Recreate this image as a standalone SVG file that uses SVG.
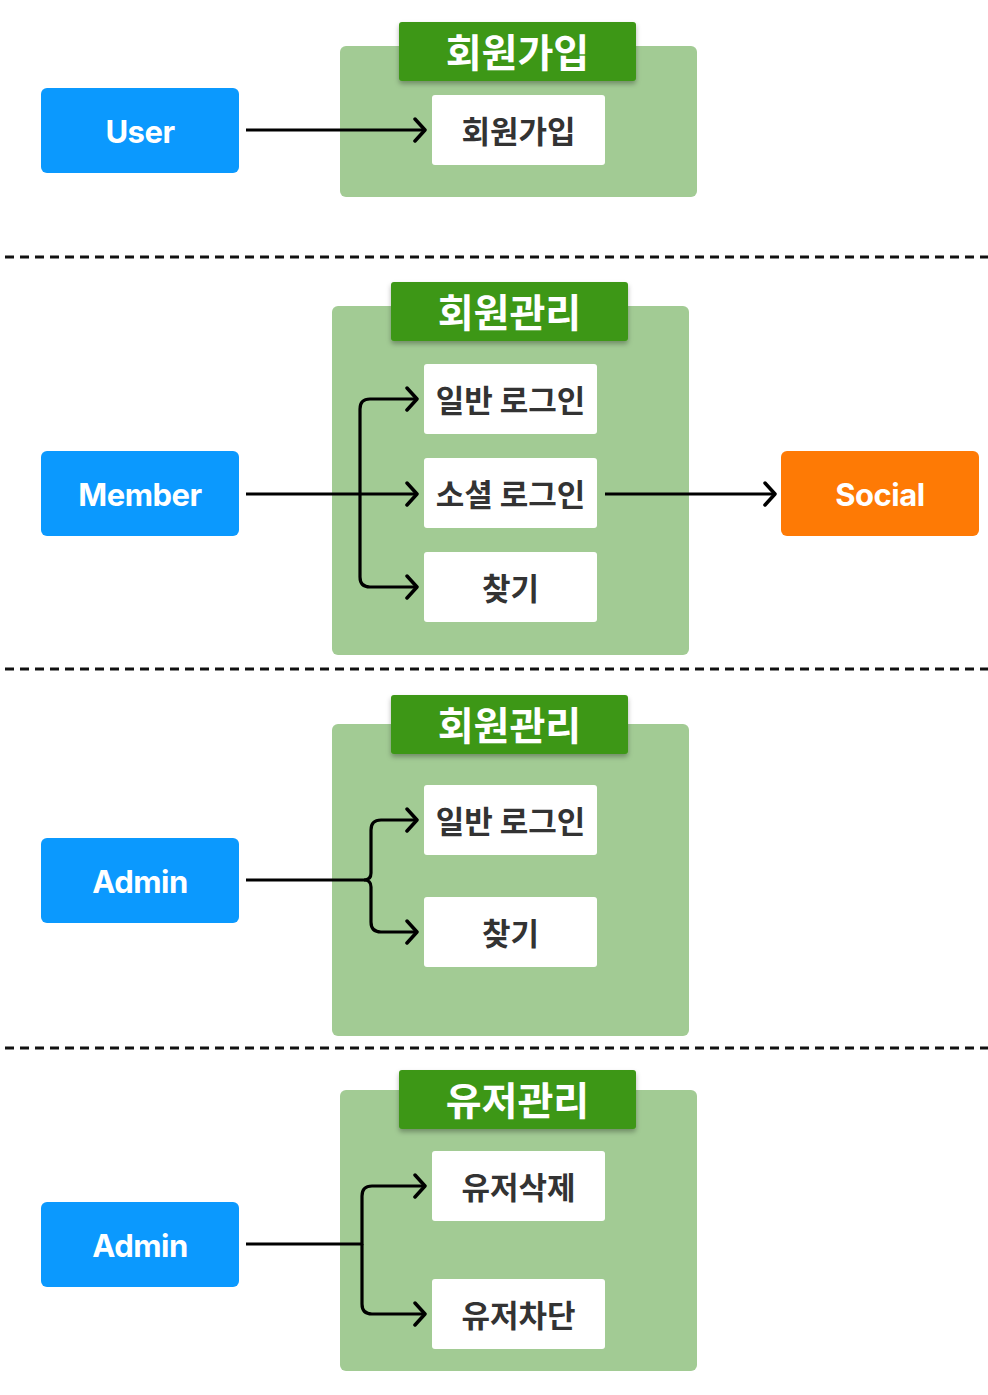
<svg xmlns="http://www.w3.org/2000/svg" width="988" height="1395" viewBox="0 0 988 1395">
<style>
.actor{fill:#0b99fe}
.social{fill:#fe7a05}
.grp{fill:#a2cb94}
.title{fill:#3c9714}
.item{fill:#ffffff}
.atext{font-family:Inter,"Noto Sans","Noto Sans CJK KR",sans-serif;font-weight:700;font-size:31px;fill:#ffffff;text-anchor:middle;dominant-baseline:central;letter-spacing:-0.5px}
.ttext{font-family:"Noto Sans CJK KR",sans-serif;font-weight:700;font-size:39px;fill:#ffffff;text-anchor:middle;dominant-baseline:central}
.itext{font-family:"Noto Sans CJK KR",sans-serif;font-weight:700;font-size:31px;fill:#333333;text-anchor:middle;dominant-baseline:central}
.conn{fill:none;stroke:#000;stroke-width:3.2;stroke-linejoin:round}
.sep{stroke:#111;stroke-width:3;stroke-dasharray:9 6}
</style>
<defs>
<marker id="arr" viewBox="0 0 14 26" refX="12" refY="13" markerWidth="14" markerHeight="26" markerUnits="userSpaceOnUse" orient="auto">
<path d="M2,2 L12,13 L2,24" fill="none" stroke="#000" stroke-width="3.5" stroke-linecap="round" stroke-linejoin="round"/>
</marker>
<filter id="sh" x="-10%" y="-20%" width="120%" height="150%">
<feDropShadow dx="0" dy="3" stdDeviation="2.5" flood-color="#000" flood-opacity="0.3"/>
</filter>
</defs>

<g id="separators">
<line class="sep" x1="5" y1="257" x2="988" y2="257"/>
<line class="sep" x1="5" y1="669" x2="988" y2="669"/>
<line class="sep" x1="5" y1="1048" x2="988" y2="1048"/>
</g>

<!-- Section 1 -->
<g id="group-signup">
<rect class="grp" x="340" y="46" width="357" height="151" rx="6"/>
<rect class="title" x="399" y="22" width="237" height="59" rx="3" filter="url(#sh)"/>
<text class="ttext" x="517.5" y="50">회원가입</text>
</g>
<g id="user"><rect class="actor" x="41" y="88" width="198" height="85" rx="6"/><text class="atext" x="140" y="131">User</text></g>
<g id="signup"><rect class="item" x="432" y="95" width="173" height="70" rx="3"/><text class="itext" x="518.5" y="129">회원가입</text></g>

<!-- Section 2 -->
<g id="group-member-mgmt">
<rect class="grp" x="332" y="306" width="357" height="349" rx="6"/>
<rect class="title" x="391" y="282" width="237" height="59" rx="3" filter="url(#sh)"/>
<text class="ttext" x="509.5" y="310">회원관리</text>
</g>
<g id="member"><rect class="actor" x="41" y="451" width="198" height="85" rx="6"/><text class="atext" x="140" y="494">Member</text></g>
<g id="login1"><rect class="item" x="424" y="364" width="173" height="70" rx="3"/><text class="itext" x="510.5" y="398">일반 로그인</text></g>
<g id="social-login"><rect class="item" x="424" y="458" width="173" height="70" rx="3"/><text class="itext" x="510.5" y="492">소셜 로그인</text></g>
<g id="find1"><rect class="item" x="424" y="552" width="173" height="70" rx="3"/><text class="itext" x="510.5" y="586">찾기</text></g>
<g id="social"><rect class="social" x="781" y="451" width="198" height="85" rx="6"/><text class="atext" x="880" y="494">Social</text></g>

<!-- Section 3 -->
<g id="group-admin-member">
<rect class="grp" x="332" y="724" width="357" height="312" rx="6"/>
<rect class="title" x="391" y="695" width="237" height="59" rx="3" filter="url(#sh)"/>
<text class="ttext" x="509.5" y="723">회원관리</text>
</g>
<g id="admin1"><rect class="actor" x="41" y="838" width="198" height="85" rx="6"/><text class="atext" x="140" y="881">Admin</text></g>
<g id="login2"><rect class="item" x="424" y="785" width="173" height="70" rx="3"/><text class="itext" x="510.5" y="819">일반 로그인</text></g>
<g id="find2"><rect class="item" x="424" y="897" width="173" height="70" rx="3"/><text class="itext" x="510.5" y="931">찾기</text></g>

<!-- Section 4 -->
<g id="group-user-mgmt">
<rect class="grp" x="340" y="1090" width="357" height="281" rx="6"/>
<rect class="title" x="399" y="1070" width="237" height="59" rx="3" filter="url(#sh)"/>
<text class="ttext" x="517.5" y="1098">유저관리</text>
</g>
<g id="admin2"><rect class="actor" x="41" y="1202" width="198" height="85" rx="6"/><text class="atext" x="140" y="1245">Admin</text></g>
<g id="delete-user"><rect class="item" x="432" y="1151" width="173" height="70" rx="3"/><text class="itext" x="518.5" y="1185">유저삭제</text></g>
<g id="block-user"><rect class="item" x="432" y="1279" width="173" height="70" rx="3"/><text class="itext" x="518.5" y="1313">유저차단</text></g>

<g id="connectors">
<path class="conn" d="M246,130 H425" marker-end="url(#arr)"/>

<path class="conn" d="M246,494 H417" marker-end="url(#arr)"/>
<path class="conn" d="M360,494 V409 Q360,399 370,399 H417" marker-end="url(#arr)"/>
<path class="conn" d="M360,494 V577 Q360,587 370,587 H417" marker-end="url(#arr)"/>
<path class="conn" d="M605,494 H775" marker-end="url(#arr)"/>

<path class="conn" d="M246,880 H364 Q371,880 371,873 V830 Q371,820 381,820 H417" marker-end="url(#arr)"/>
<path class="conn" d="M364,880 Q371,880 371,887 V922 Q371,932 381,932 H417" marker-end="url(#arr)"/>

<path class="conn" d="M246,1244 H362 V1196 Q362,1186 372,1186 H425" marker-end="url(#arr)"/>
<path class="conn" d="M362,1244 V1304 Q362,1314 372,1314 H425" marker-end="url(#arr)"/>
</g>
</svg>
